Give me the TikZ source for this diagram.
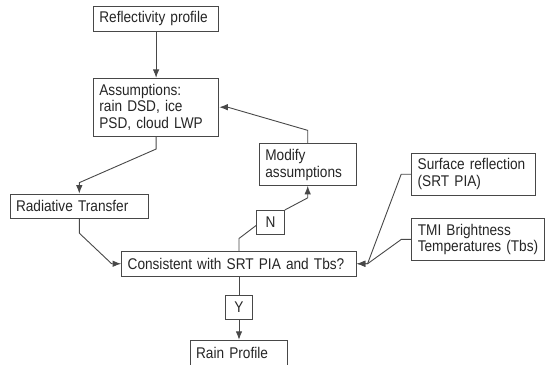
\documentclass[tikz,border=0pt]{standalone}
\usepackage{fontspec}
\setmainfont[FakeStretch=0.88]{Liberation Sans}
\usetikzlibrary{arrows.meta,calc}
\definecolor{ln}{HTML}{484848}
\definecolor{tx}{HTML}{262626}
\begin{document}
\begin{tikzpicture}[x=1pt,y=-1pt,
  box/.style={draw=ln, line width=1pt, fill=white, text=tx,
    font=\fontsize{15.5}{16.8}\selectfont, align=left,
    inner xsep=6pt, inner ysep=0pt, anchor=center},
  tag/.style={box, align=center, inner xsep=0pt, minimum width=27.6pt, minimum height=23.8pt},
  conn/.style={draw=ln, line width=0.9pt},
  arr/.style={conn, -{Latex[length=8.5pt,width=6.5pt]}}]
\useasboundingbox (0,0) rectangle (546,364);

\node[box, text width=113.4pt, minimum height=25.7pt] (refl) at (156.1,18.9) {Reflectivity profile};
\node[box, text width=113.4pt, minimum height=57.7pt] (assum) at (156.1,107.2) {Assumptions:\\rain DSD, ice\\PSD, cloud LWP};
\node[box, text width=84.7pt, minimum height=41.5pt] (modify) at (307.7,164.6) {Modify\\assumptions};
\node[box, text width=112pt, minimum height=41.7pt] (surf) at (473.7,174.2) {Surface reflection\\(SRT PIA)};
\node[box, text width=126.5pt, minimum height=24.5pt] (rad) at (79.3,206.4) {Radiative Transfer};
\node[tag] (N) at (270.5,222.4) {N};
\node[box, text width=120.4pt, minimum height=41.8pt] (tmi) at (478,239.4) {TMI Brightness\\\mbox{Temperatures (Tbs)}};
\node[box, text width=222.7pt, minimum height=24.5pt] (cons) at (239,263.75) {Consistent with SRT PIA and Tbs?};
\node[tag] (Y) at (239,307.1) {Y};
\node[box, text width=85.8pt, minimum height=26pt] (rain) at (239,353.3) {Rain Profile};

\draw[arr] (refl.south) -- (assum.north);
\draw[arr] (assum.south) -- ++(0,12.5) -- ($(rad.north)+(0,-11)$) -- (rad.north);
\draw[arr] (rad.south) -- ++(0,14) -- ($(cons.west)+(-9.5,0)$) -- (cons.west);
\draw[conn] (cons.north) -- ++(0,-12.5) -- ($(N.west)+(0,3)$);
\draw[arr] (N.north east) -- ($(modify.south)+(0,12)$) -- (modify.south);
\draw[arr] (modify.north) -- ++(0,-13) -- ($(assum.east)+(8.5,0)$) -- (assum.east);
\draw[arr] (surf.west) -- ++(-10,0) -- ($(cons.east)+(10.7,0)$) -- (cons.east);
\draw[arr] (tmi.west) -- ++(-10,0) -- ($(cons.east)+(10.7,0)$) -- (cons.east);
\draw[conn] (cons.south) -- (Y.north);
\draw[arr] (Y.south) -- (rain.north);
\end{tikzpicture}
\end{document}
